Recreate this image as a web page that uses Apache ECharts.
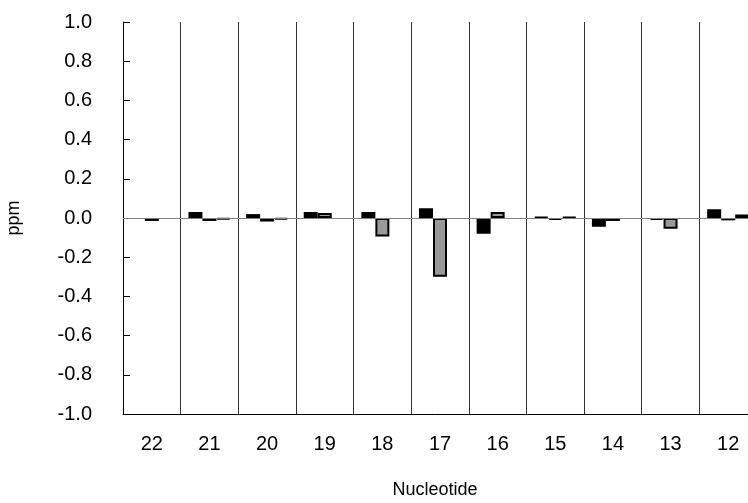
<!DOCTYPE html>
<html>
<head>
<meta charset="utf-8">
<script src="https://cdn.jsdelivr.net/npm/echarts@6/dist/echarts.min.js"></script>
<style>
html,body{margin:0;padding:0;background:#fff;}
#chart{width:748px;height:503px;}
</style>
</head>
<body>
<div id="chart"></div>
<script>
// Chemical shift differences (ppm) per nucleotide, three data sets
const nucleotides = ['22', '21', '20', '19', '18', '17', '16', '15', '14', '13', '12'];
const setBlack = [null, 0.03, 0.02, 0.03, 0.03, 0.05, -0.08, 0.005, -0.045, -0.01, 0.045];
const setGray  = [-0.015, -0.015, -0.018, 0.025, -0.095, -0.3, 0.03, -0.01, -0.015, -0.055, -0.012];
const setWhite = [null, -0.007, -0.008, null, null, null, null, 0.005, null, null, 0.018];
const yTicks = [-1.0, -0.8, -0.6, -0.4, -0.2, 0.0, 0.2, 0.4, 0.6, 0.8, 1.0];

const font = 'Liberation Sans, Arial, sans-serif';
const chart = echarts.init(document.getElementById('chart'));

function barSeries(name, data, fill) {
  return {
    name: name,
    type: 'bar',
    data: data,
    barWidth: 14,
    barGap: '0%',
    itemStyle: { color: fill, borderColor: '#000', borderWidth: 2 },
    silent: true
  };
}

const series = [
  barSeries('A', setBlack, '#000'),
  barSeries('B', setGray, '#999999'),
  barSeries('C', setWhite, '#ffffff')
];
// horizontal reference line at zero
series[0].markLine = {
  silent: true,
  symbol: 'none',
  label: { show: false },
  lineStyle: { color: '#808080', width: 1, type: 'solid' },
  data: [{ yAxis: 0 }]
};

chart.setOption({
  animation: false,
  backgroundColor: '#fff',
  grid: {
    left: 123, top: 22, height: 392, width: 634,
    containLabel: false,
    outerBoundsMode: 'none'
  },
  xAxis: {
    type: 'category',
    data: nucleotides,
    boundaryGap: true,
    name: 'Nucleotide',
    nameLocation: 'middle',
    nameGap: 67,
    nameTextStyle: { fontFamily: font, fontSize: 18, color: '#000', padding: [0, 10, 0, 0] },
    axisLine: { onZero: false, lineStyle: { color: '#000', width: 1 } },
    axisTick: { show: false },
    axisLabel: { fontFamily: font, fontSize: 20, color: '#000', margin: 20 },
    splitLine: { show: true, lineStyle: { color: '#333', width: 1 } }
  },
  yAxis: {
    type: 'value',
    min: yTicks[0],
    max: yTicks[yTicks.length - 1],
    interval: 0.2,
    name: 'ppm',
    nameLocation: 'middle',
    nameGap: 100,
    nameRotate: 90,
    nameTextStyle: { fontFamily: font, fontSize: 18, color: '#000' },
    axisLine: { show: true, lineStyle: { color: '#000', width: 1 } },
    axisTick: { show: true, inside: true, length: 7, lineStyle: { color: '#000' } },
    axisLabel: {
      fontFamily: font, fontSize: 20, color: '#000', margin: 31,
      formatter: v => v.toFixed(1)
    },
    splitLine: { show: false }
  },
  series: series
});
</script>
</body>
</html>
